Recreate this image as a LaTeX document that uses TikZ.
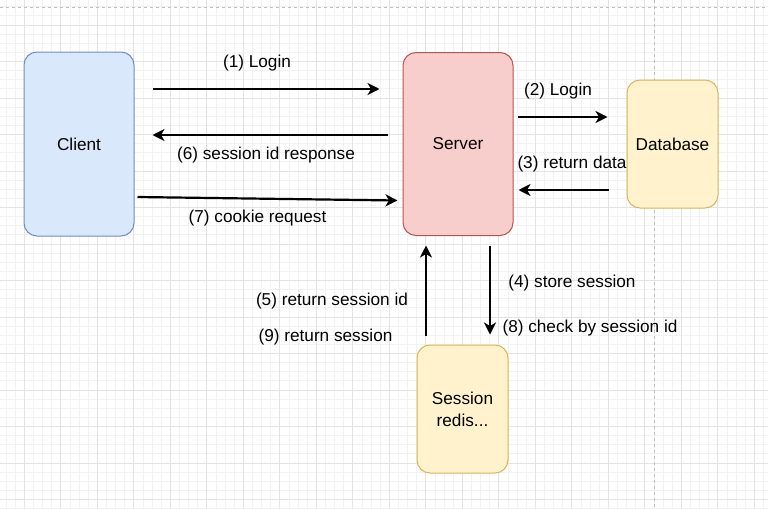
\documentclass[tikz,border=0pt]{standalone}
\usepackage{fontspec}
\setmainfont{Liberation Sans}
\usetikzlibrary{arrows.meta}
\definecolor{clientfill}{HTML}{DAE8FC}
\definecolor{clientline}{HTML}{6C8EBF}
\definecolor{serverfill}{HTML}{F8CECC}
\definecolor{serverline}{HTML}{B85450}
\definecolor{storefill}{HTML}{FFF2CC}
\definecolor{storeline}{HTML}{D6B656}
\begin{document}
\begin{tikzpicture}[x=1pt, y=-1pt, >={Stealth[length=12pt,width=12pt,inset=3.5pt]},
  font=\fontsize{17.2}{22}\selectfont,
  box/.style={draw, rounded corners=13pt, line width=1pt, text=black, align=center},
  arr/.style={->, line width=2.2pt},
  lbl/.style={text=black, inner sep=0pt}]
\useasboundingbox (0,0) rectangle (768,509);
\fill[white] (0,0) rectangle (768,509);
% grid
\foreach \i in {0,...,83}
  \draw[black!5, line width=0.8pt] ({6.05+9.125*\i},0) -- ++(0,509);
\foreach \i in {0,...,55}
  \draw[black!5, line width=0.8pt] (0,{6.75+9.125*\i}) -- ++(768,0);
\foreach \i in {0,...,20}
  \draw[black!11, line width=0.8pt] ({24.3+36.5*\i},0) -- ++(0,509);
\foreach \i in {0,...,13}
  \draw[black!11, line width=0.8pt] (0,{25+36.5*\i}) -- ++(768,0);
\draw[black!25, dashed, line width=0.8pt] (654,0) -- (654,509);
\draw[black!25, dashed, line width=0.8pt] (0,7) -- (768,7);

% boxes
\node[box, fill=clientfill, draw=clientline, minimum width=110pt, minimum height=184pt] (client) at (79,144) {Client};
\node[box, fill=serverfill, draw=serverline, minimum width=110pt, minimum height=183pt] (server) at (458,144) {Server};
\node[box, fill=storefill, draw=storeline, minimum width=91pt, minimum height=128pt] (db) at (672.5,144) {Database};
\node[box, fill=storefill, draw=storeline, minimum width=91pt, minimum height=128pt] (redis) at (462.5,409) {Session\\redis...};

% arrows
\draw[arr] ([xshift=18pt,yshift=55pt]client.east) -- ([xshift=-23pt,yshift=55pt]server.west);
\draw[arr] ([xshift=-15pt,yshift=9pt]server.west) -- ([xshift=18pt,yshift=9pt]client.east);
\draw[arr] ([xshift=3pt,yshift=-53pt]client.east) -- ([xshift=-5pt,yshift=-56.5pt]server.west);
\draw[arr] ([xshift=4pt,yshift=27pt]server.east) -- ([xshift=-19pt,yshift=27pt]db.west);
\draw[arr] ([xshift=-18pt,yshift=-46pt]db.west) -- ([xshift=5pt,yshift=-46pt]server.east);
\draw[arr] ([xshift=-36.5pt,yshift=9pt]redis.north) -- ([xshift=-32pt,yshift=-9.5pt]server.south);
\draw[arr] ([xshift=32pt,yshift=-9.5pt]server.south) -- ([xshift=27.5pt,yshift=10pt]redis.north);

% labels
\node[lbl] (l1) at (257,63) {(1) Login};
\node[lbl] (l2) at (558,91) {(2) Login};
\node[lbl] (l3) at (572,164) {(3) return data};
\node[lbl] (l4) at (572,283) {(4) store session};
\node[lbl] (l5) at (332,301) {(5) return session id};
\node[lbl] (l6) at (266,155) {(6) session id response};
\node[lbl] (l7) at (257.5,218) {(7) cookie request};
\node[lbl] (l8) at (590,328) {(8) check by session id};
\node[lbl] (l9) at (325.5,337) {(9) return session};
\end{tikzpicture}
\end{document}
